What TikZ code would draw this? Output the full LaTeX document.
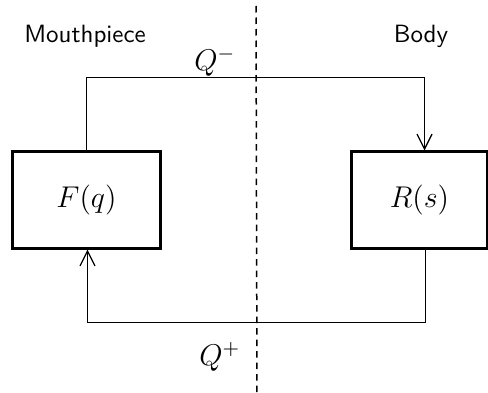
\documentclass[tikz,border=0pt]{standalone}
\usepackage{amsmath}
\usepackage{tikz}
\usetikzlibrary{arrows.meta,positioning,calc}

\begin{document}
\begin{tikzpicture}[x=0.4pt,y=-0.4pt,font=\sffamily,
    block/.style={draw,line width=1.2pt,minimum height=38.4pt,inner sep=0pt,font=\large},
    flow/.style={-{Straight Barb[length=6pt,width=6pt,line width=0.5pt]},line width=0.5pt},
    split/.style={line width=0.6pt,dash pattern=on 2.6pt off 2pt}]
  \useasboundingbox (0,0) rectangle (488,393);

  \node[block,minimum width=58.8pt] (F) at (86.5,200) {$F(q)$};
  \node[block,minimum width=54pt]   (R) at (419.5,200) {$R(s)$};

  \node (mouth) at (85,36) {Mouthpiece};
  \node (body)  at (421,36) {Body};
  \node[font=\large] (qminus) at (215,62) {$Q^-$};
  \node[font=\large] (qplus)  at (220,357) {$Q^+$};

  \coordinate (top) at (256,6);
  \coordinate (bot) at (257,393);
  \draw[split] (top) -- (bot);

  \draw[flow] (F.north) -- ++(0,-73) -| ([xshift=2pt]R.north);
  \draw[flow] ([xshift=2.4pt]R.south) -- ++(0,73) -| ([xshift=0.4pt]F.south);
\end{tikzpicture}
\end{document}
